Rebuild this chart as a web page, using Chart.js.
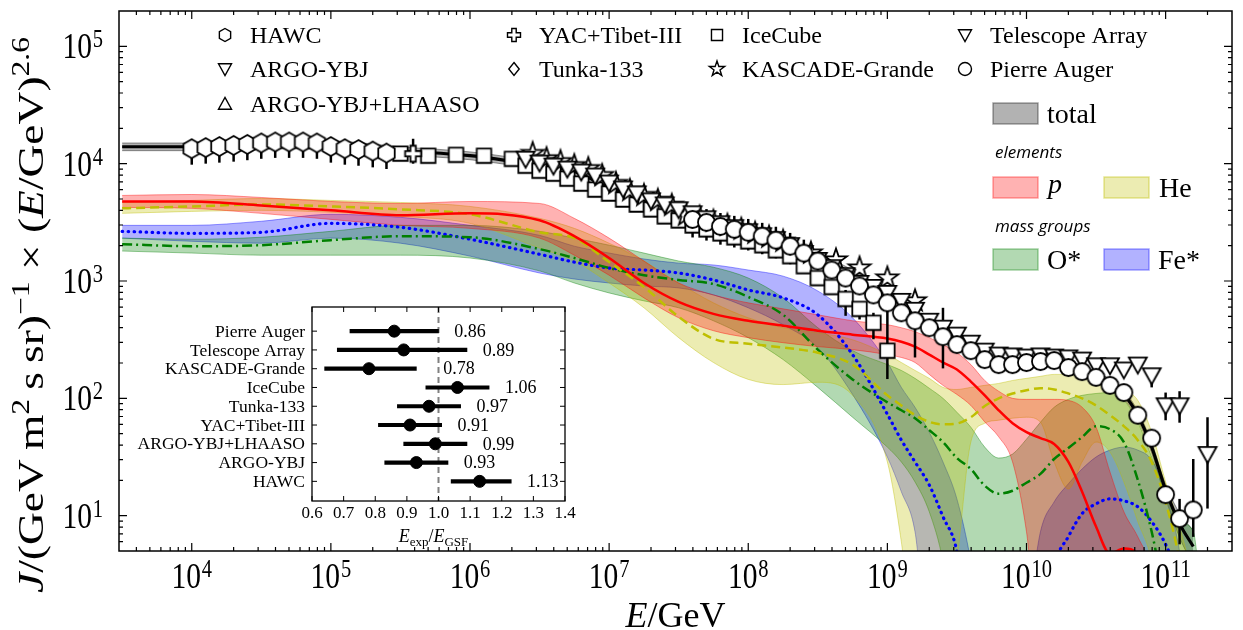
<!DOCTYPE html>
<html>
<head>
<meta charset="utf-8">
<script src="https://cdn.jsdelivr.net/npm/chart.js@4.4.0/dist/chart.umd.min.js"></script>
<style>
  html, body { margin: 0; padding: 0; background: #fff; }
  #wrap { position: relative; width: 1243px; height: 630px; }
  #main { position: absolute; left: 0; top: 0; }
  #inset { position: absolute; left: 120px; top: 295px; }
</style>
</head>
<body>
<div id="wrap">
  <canvas id="main" width="1243" height="630"></canvas>
  <canvas id="inset" width="470" height="260"></canvas>
</div>
<script>
// model grid (E in GeV)
const gridE = [3.16e3, 1e4, 3.16e4, 1e5, 3.16e5, 1e6, 3.16e6, 5.62e6, 1e7, 1.78e7, 3.16e7, 5.62e7, 1e8, 1.78e8, 3.16e8, 5.62e8,
  1e9, 1.26e9, 1.58e9, 2e9, 2.51e9, 3.16e9, 3.98e9, 5.01e9, 6.31e9, 7.94e9, 1e10, 1.26e10, 1.58e10, 2e10, 2.51e10, 3.16e10,
  3.98e10, 5.01e10, 6.31e10, 7.94e10, 1e11, 1.26e11, 1.58e11, 2e11, 3.16e11];

// total flux model
const totalMid = [13930, 13930, 14490, 14490, 12890, 11690, 9620, 8560, 6260, 4950, 4000, 3230, 2600, 2100, 1600, 1150,
  761, 626, 515, 424, 356, 304, 260, 232, 210, 206, 206, 210, 206, 194, 176, 157, 134, 108, 71.8, 38.4, 16.6, 8.56, 5.46, null, null];
const totalHi = [15000, 15000, 15600, 15600, 13900, 12600, 10400, 9250, 6760, 5350, 4320, 3490, 2810, 2270, 1730, 1240,
  822, 676, 556, 458, 384, 328, 281, 251, 227, 222, 222, 227, 222, 210, 190, 170, 145, 117, 78, 42, 18.5, 10.5, 7.5, null, null];
const totalLo = [12900, 12900, 13400, 13400, 11900, 10800, 8900, 7920, 5790, 4580, 3700, 2990, 2400, 1940, 1480, 1060,
  704, 579, 476, 392, 329, 281, 240, 215, 194, 191, 191, 194, 191, 179, 163, 145, 124, 99, 65, 34, 14, 6.5, 3.8, null, null];

// protons
const pMid = [4760, 4760, 4410, 4000, 3630, 3770, 3290, 2410, 1570, 962, 664, 525, 458, 416, 377, 349,
  323, 304, 276, 236, 202, 176, 139, 106, 79.1, 61.4, 51.5, 45.8, 40.8, 28.7, 16.0, 8.07, 4.76, 5.25, 4.67, 1.87, 0.7, 0.7, 0.7, 0.7, 0.7];
const pHi = [5360, 5460, 5150, 4760, 4580, 4760, 4580, 3420, 2320, 1480, 962, 761, 651, 579, 515, 458,
  424, 400, 370, 329, 287, 245, 194, 142, 115, 100, 98, 98, 98, 96, 84, 57, 23.6, 10.8, 6.6, 3.4, 0.7, 0.7, 0.7, 0.7, 0.7];
const pLo = [4240, 4160, 3770, 3350, 2980, 2810, 2320, 1660, 1120, 718, 486, 377, 329, 298, 276, 260,
  236, 223, 202, 160, 129, 108, 87, 63, 47, 28.7, 7.3, 0.7, 0.7, 0.7, 0.7, 0.7, 0.7, 0.7, 0.7, 0.7, 0.7, 0.7, 0.7, 0.7, 0.7];

// helium
const heMid = [4160, 4320, 4490, 4320, 4080, 3700, 2600, 2320, 1450, 890, 495, 322, 292, 271, 245, 194,
  106, 87, 72, 63, 60, 61, 69, 86, 100, 110, 117, 122, 119, 110, 100, 87, 72, 58, 44, 28.7, 13.1, 4.1, 0.7, 0.7, 0.7];
const heHi = [4670, 4860, 5050, 4860, 4670, 4320, 3420, 2810, 2100, 1480, 962, 651, 486, 400, 362, 316,
  236, 202, 173, 148, 124, 119, 124, 129, 134, 142, 148, 154, 160, 160, 157, 151, 137, 119, 96, 51.5, 19.4, 8.1, 2.8, 0.7, 0.7];
const heLo = [3770, 3920, 4000, 3850, 3560, 3100, 1905, 1480, 962, 591, 329, 202, 145, 131, 137, 106,
  28.7, 6.0, 0.7, 0.7, 0.7, 4.1, 42.4, 61.4, 65.1, 67.7, 69.0, 62.6, 28.7, 16.9, 28.7, 42.4, 34.9, 19.4, 8.9, 4.1, 0.7, 0.7, 0.7, 0.7, 0.7];

// O* mass group
const oMid = [2060, 1980, 2020, 2230, 2410, 2360, 1870, 1570, 1290, 1120, 1020, 943, 732, 515, 260, 145,
  92.5, 79.1, 67.7, 53.6, 42.4, 31.0, 25.0, 18.0, 15.4, 16.3, 19.1, 22.7, 30.4, 37.7, 46.7, 57.9, 54.6, 42.4, 20.2, 7.3, 1.9, 0.7, 0.7, 0.7, 0.7];
const oHi = [2320, 2270, 2360, 2650, 2980, 2980, 2650, 2320, 2020, 1730, 1480, 1310, 1060, 718, 400, 255,
  194, 173, 148, 122, 100, 76.1, 56.8, 38.4, 31.0, 33.5, 44.9, 62.6, 83.9, 98.1, 106, 110, 112, 96.2, 62.6, 31.6, 15.4, 8.9, 7.3, 0.7, 0.7];
const oLo = [1800, 1730, 1660, 1660, 1660, 1570, 1220, 962, 791, 677, 591, 458, 329, 214, 124, 69,
  38.4, 28.7, 19.4, 10.8, 4.1, 0.7, 0.7, 0.7, 0.7, 0.7, 0.7, 0.7, 0.7, 0.7, 0.7, 0.7, 0.7, 0.7, 0.7, 0.7, 0.7, 0.7, 0.7, 0.7, 0.7];

// Fe* mass group
const feMid = [2650, 2550, 2600, 3100, 2870, 2270, 1690, 1450, 1290, 1240, 1170, 1020, 839, 718, 515, 236,
  73.2, 44.1, 28.7, 18.3, 9.8, 4.95, 0.7, 0.7, 0.7, 0.7, 0.7, 0.7, 3.7, 6.64, 10.4, 12.6, 13.9, 13.4, 11.9, 8.9, 5.68, 2.76, 0.7, 0.7, 0.7];
const feHi = [2980, 2980, 3230, 3700, 3490, 2980, 2450, 1980, 1730, 1540, 1420, 1370, 1240, 1100, 823, 486,
  202, 124, 83.9, 51.5, 28.7, 13.9, 4.1, 0.7, 0.7, 0.7, 1.26, 7.3, 13.1, 18.7, 25.0, 31.6, 36.2, 38.4, 36.2, 29.8, 16.0, 4.95, 0.7, 0.7, 0.7];
const feLo = [2320, 2180, 2100, 2320, 2100, 1630, 1170, 1040, 962, 907, 873, 761, 591, 424, 271, 108,
  31.6, 16.0, 7.3, 0.7, 0.7, 0.7, 0.7, 0.7, 0.7, 0.7, 0.7, 0.7, 0.7, 0.7, 0.7, 0.7, 0.7, 0.7, 0.7, 0.7, 0.7, 0.7, 0.7, 0.7, 0.7];

// measurements
const hawcE = [1e4, 1.26e4, 1.58e4, 2e4, 2.51e4, 3.16e4, 3.98e4, 5.01e4, 6.31e4, 7.94e4, 1e5, 1.26e5, 1.58e5, 2e5, 2.51e5];
const hawcJ = [13400, 13700, 14000, 14300, 14600, 15000, 15300, 15300, 15300, 15000, 14000, 13400, 13200, 12800, 12300];
const hawcLo = [9800, 10000, 10200, 10400, 10700, 11000, 11200, 11200, 11200, 11000, 10200, 9800, 9600, 9300, 9000];
const hawcHi = [16100, 16400, 16800, 17200, 17500, 18000, 18300, 18300, 18300, 18000, 16800, 16100, 15800, 15400, 14800];

const yacE = [3.9e5];
const yacJ = [12150];
const yacLo = [10000];
const yacHi = [16300];

const iceE = [3.16e5, 5.01e5, 7.94e5, 1.26e6, 2e6, 2.51e6, 3.16e6, 3.98e6, 5.01e6, 6.31e6, 7.94e6, 1e7, 1.26e7, 1.58e7, 2e7, 2.51e7,
  3.16e7, 3.98e7, 5.01e7, 6.31e7, 7.94e7, 1e8, 1.26e8, 1.58e8, 2e8, 2.51e8, 3.16e8, 3.98e8, 5.01e8, 6.31e8, 7.94e8, 1e9];
const iceJ = [12200, 11700, 11900, 11700, 11000, 9620, 8720, 8230, 7460, 6770, 6020, 5570, 4950, 4490, 4080, 3560,
  3290, 2980, 2760, 2550, 2360, 2180, 2020, 1830, 1630, 1340, 1060, 890, 704, 579, 441, 255];
const iceErrE = [5.01e8, 6.31e8, 7.94e8, 1e9];
const iceErrLo = [505, 470, 319, 146];
const iceErrHi = [839, 651, 536, 651];

const kgE = [2.82e6, 3.55e6, 4.47e6, 5.62e6, 7.08e6, 8.91e6, 1.12e7, 1.41e7, 1.78e7, 2.24e7, 2.82e7, 3.55e7, 4.47e7, 5.62e7,
  7.08e7, 8.91e7, 1.12e8, 1.41e8, 1.78e8, 2.82e8, 4.27e8, 6.31e8, 1e9, 1.58e9];
const kgJ = [12200, 11000, 10400, 9620, 9070, 7910, 6770, 5900, 5350, 4860, 4410, 3630, 3490, 3230,
  2980, 2760, 2550, 2360, 2180, 1730, 1510, 1290, 1060, 677];

const taE = [2.51e6, 3.16e6, 3.98e6, 5.01e6, 6.31e6, 7.94e6, 1e7, 1.26e7, 1.58e7, 2e7, 2.51e7, 3.16e7, 3.98e7, 5.01e7, 6.31e7, 7.94e7,
  1e8, 1.26e8, 1.58e8, 2e8, 2.51e8, 3.16e8, 3.98e8, 5.01e8, 6.31e8, 7.94e8, 1e9, 1.26e9, 1.58e9, 2e9, 2.51e9, 3.16e9,
  3.98e9, 5.01e9, 6.31e9, 7.94e9, 1e10, 1.26e10, 1.58e10, 2e10, 2.51e10, 3.16e10, 3.98e10, 5.01e10, 6.31e10, 7.94e10, 1e11, 1.26e11, 2e11];
const taJ = [11000, 10200, 9620, 9070, 8560, 7910, 6900, 6140, 5570, 4860, 4490, 4080, 3770, 3420, 3100, 2870,
  2650, 2450, 2270, 2020, 1730, 1510, 1310, 1120, 962, 890, 791, 677, 568, 458, 400, 349,
  298, 255, 236, 232, 227, 232, 227, 223, 214, 191, 191, 176, 194, 157, 87.2, 87.2, 33.5];
const taErrE = [1.58e9, 2.51e9, 7.94e10, 1e11, 1.26e11, 2e11];
const taErrLo = [223, 180, 124, 65, 62, 11.5];
const taErrHi = [536, 591, 166, 112, 115, 69];

const augerE = [3.98e7, 5.01e7, 6.31e7, 7.94e7, 1e8, 1.26e8, 1.58e8, 2e8, 2.51e8, 3.16e8, 3.98e8, 5.01e8, 6.31e8, 7.94e8,
  1e9, 1.26e9, 1.58e9, 2e9, 2.51e9, 3.16e9, 3.98e9, 5.01e9, 6.31e9, 7.94e9, 1e10, 1.26e10, 1.58e10, 2e10, 2.51e10,
  3.16e10, 3.98e10, 5.01e10, 6.31e10, 7.94e10, 1e11, 1.26e11, 1.58e11];
const augerJ = [3350, 3160, 2920, 2760, 2600, 2410, 2230, 1980, 1730, 1480, 1240, 1060, 907, 761,
  651, 536, 458, 400, 335, 287, 255, 214, 194, 194, 202, 206, 210, 183, 169,
  151, 129, 112, 71.8, 45.8, 15.1, 9.43, 11.2];
const augerErrE = [3.98e7, 5.01e7, 6.31e7, 7.94e7, 1e8, 1.26e8, 1.58e8, 2e8, 2.51e8, 1.26e11, 1.58e11];
const augerErrLo = [2350, 2210, 2040, 1930, 1820, 1690, 1560, 1390, 1210, 5.7, 6.6];
const augerErrHi = [4350, 4100, 3800, 3590, 3380, 3130, 2900, 2570, 2250, 13.9, 30.4];

// axis decades
const xTickExp = [4, 5, 6, 7, 8, 9, 10, 11];
const yTickExp = [1, 2, 3, 4, 5];

// inset: energy scale ratios
const expNames = ['Pierre Auger', 'Telescope Array', 'KASCADE-Grande', 'IceCube', 'Tunka-133', 'YAC+Tibet-III', 'ARGO-YBJ+LHAASO', 'ARGO-YBJ', 'HAWC'];
const ratioMid = [0.86, 0.89, 0.78, 1.06, 0.97, 0.91, 0.99, 0.93, 1.13];
const ratioLo = [0.72, 0.68, 0.64, 0.96, 0.87, 0.81, 0.89, 0.83, 1.04];
const ratioHi = [1.00, 1.09, 0.93, 1.16, 1.07, 1.01, 1.09, 1.03, 1.23];
const ratioTicks = [0.6, 0.7, 0.8, 0.9, 1.0, 1.1, 1.2, 1.3, 1.4];
const refRatio = 1.0;

const SERIF = '"Liberation Serif", "Times New Roman", serif';

const xy = (xs, ys) => xs.map((x, i) => ({ x: x, y: ys[i] }));

// marker shapes
function markerPath(g, kind, x, y, s) {
    g.beginPath();
    if (kind === 'circle') {
        g.arc(x, y, s, 0, Math.PI * 2);
    } else if (kind === 'hex') {
        for (let k = 0; k < 6; k++) {
            const a = -Math.PI / 2 + k * Math.PI / 3;
            const px = x + s * Math.cos(a), py = y + s * Math.sin(a);
            if (k) g.lineTo(px, py); else g.moveTo(px, py);
        }
        g.closePath();
    } else if (kind === 'square') {
        g.rect(x - s * 0.85, y - s * 0.85, s * 1.7, s * 1.7);
    } else if (kind === 'tdown') {
        g.moveTo(x - s, y - s * 0.8); g.lineTo(x + s, y - s * 0.8); g.lineTo(x, y + s); g.closePath();
    } else if (kind === 'tup') {
        g.moveTo(x - s, y + s * 0.8); g.lineTo(x + s, y + s * 0.8); g.lineTo(x, y - s); g.closePath();
    } else if (kind === 'diamond') {
        g.moveTo(x, y - s); g.lineTo(x + s * 0.8, y); g.lineTo(x, y + s); g.lineTo(x - s * 0.8, y); g.closePath();
    } else if (kind === 'star') {
        for (let k = 0; k < 10; k++) {
            const r = k % 2 ? s * 0.45 : s * 1.15;
            const a = -Math.PI / 2 + k * Math.PI / 5;
            const px = x + r * Math.cos(a), py = y + r * Math.sin(a);
            if (k) g.lineTo(px, py); else g.moveTo(px, py);
        }
        g.closePath();
    } else if (kind === 'plus') {
        const a = s * 0.34;
        const p = [[-a, -s], [a, -s], [a, -a], [s, -a], [s, a], [a, a], [a, s], [-a, s], [-a, a], [-s, a], [-s, -a], [-a, -a]];
        p.forEach((q, k) => k ? g.lineTo(x + q[0], y + q[1]) : g.moveTo(x + q[0], y + q[1]));
        g.closePath();
    }
}

function drawMarker(g, kind, x, y, s, lw) {
    markerPath(g, kind, x, y, s);
    g.fillStyle = '#fff';
    g.fill();
    g.lineWidth = lw;
    g.strokeStyle = '#000';
    g.stroke();
}

function markerImage(kind, s) {
    const n = Math.ceil(s * 2.6) + 4;
    const c = document.createElement('canvas');
    c.width = n; c.height = n;
    drawMarker(c.getContext('2d'), kind, n / 2, n / 2, s, 1.8);
    return c;
}

function bandSets(hi, lo, rgb) {
    return [
        { data: xy(gridE, hi), borderColor: 'rgba(' + rgb + ',0.4)', borderWidth: 1, backgroundColor: 'rgba(' + rgb + ',0.3)',
          fill: '+1', pointRadius: 0, cubicInterpolationMode: 'monotone', order: 10 },
        { data: xy(gridE, lo), borderColor: 'rgba(' + rgb + ',0.4)', borderWidth: 1, fill: false,
          pointRadius: 0, cubicInterpolationMode: 'monotone', order: 10 }
    ];
}

function modelLine(mid, color, dash, width) {
    return { data: xy(gridE, mid), borderColor: color, borderWidth: width, borderDash: dash, fill: false,
             pointRadius: 0, cubicInterpolationMode: 'monotone', order: 5 };
}

function pointSet(es, js, kind, s, order) {
    return { data: xy(es, js), showLine: false, pointStyle: markerImage(kind, s), pointRadius: s, order: order };
}

// rich text with italics, super- and subscripts
function richFont(seg, F) {
    return (seg.it ? 'italic ' : '') + Math.round(seg.sup || seg.sub ? F * 0.7 : F) + 'px ' + SERIF;
}
function measureRich(ctx, segs, F) {
    let w = 0;
    segs.forEach(s => { ctx.font = richFont(s, F); w += ctx.measureText(s.t).width; });
    return w;
}
function drawRich(ctx, segs, x, y, F, align) {
    const w = measureRich(ctx, segs, F);
    let cx = align === 'center' ? x - w / 2 : align === 'right' ? x - w : x;
    ctx.textAlign = 'left';
    ctx.textBaseline = 'alphabetic';
    segs.forEach(s => {
        ctx.font = richFont(s, F);
        const dy = s.sup ? -F * 0.38 : s.sub ? F * 0.22 : 0;
        ctx.fillText(s.t, cx, y + dy);
        cx += ctx.measureText(s.t).width;
    });
}

// "10^n" tick label, glyphs a bit condensed like the original
function drawPow(ctx, n, x, y, align) {
    ctx.save();
    ctx.translate(x, y);
    ctx.scale(0.82, 1);
    ctx.fillStyle = '#000';
    ctx.textAlign = 'left';
    ctx.textBaseline = 'alphabetic';
    ctx.font = '36px ' + SERIF;
    const wb = ctx.measureText('10').width;
    ctx.font = '25px ' + SERIF;
    const we = ctx.measureText(String(n)).width;
    const w = wb + we + 1;
    const x0 = align === 'right' ? -w : -w / 2;
    ctx.font = '36px ' + SERIF;
    ctx.fillText('10', x0, 12);
    ctx.font = '25px ' + SERIF;
    ctx.fillText(String(n), x0 + wb + 1, 1);
    ctx.restore();
}

const errorSets = [
    [hawcE, hawcLo, hawcHi], [yacE, yacLo, yacHi], [iceErrE, iceErrLo, iceErrHi],
    [taErrE, taErrLo, taErrHi], [augerErrE, augerErrLo, augerErrHi]
];

const errorBars = {
    id: 'errorBars',
    afterDatasetDraw(chart, args) {
        if (chart.data.datasets[args.index].label !== 'total') return;
        const { ctx, chartArea: a } = chart;
        const x = chart.scales.x, y = chart.scales.y;
        ctx.save();
        ctx.beginPath();
        ctx.rect(a.left, a.top, a.right - a.left, a.bottom - a.top);
        ctx.clip();
        ctx.strokeStyle = '#000';
        ctx.lineWidth = 2.5;
        errorSets.forEach(([es, lo, hi]) => {
            es.forEach((e, i) => {
                const px = x.getPixelForValue(e);
                ctx.beginPath();
                ctx.moveTo(px, y.getPixelForValue(lo[i]));
                ctx.lineTo(px, y.getPixelForValue(hi[i]));
                ctx.stroke();
            });
        });
        ctx.restore();
    }
};

const mainFrame = {
    id: 'mainFrame',
    afterDraw(chart) {
        const { ctx, chartArea: a } = chart;
        const x = chart.scales.x, y = chart.scales.y;
        ctx.save();
        ctx.strokeStyle = '#000';
        ctx.fillStyle = '#000';
        ctx.lineWidth = 1.5;
        ctx.strokeRect(a.left, a.top, a.right - a.left, a.bottom - a.top);

        // ticks, pointing inward on all four sides
        ctx.lineWidth = 1.2;
        for (let k = 3; k <= 11; k++) {
            for (let m = 1; m <= 9; m++) {
                const v = m * Math.pow(10, k);
                if (v <= x.min || v >= x.max) continue;
                const px = x.getPixelForValue(v), len = m === 1 ? 8 : 4;
                ctx.beginPath();
                ctx.moveTo(px, a.bottom); ctx.lineTo(px, a.bottom - len);
                ctx.moveTo(px, a.top); ctx.lineTo(px, a.top + len);
                ctx.stroke();
            }
        }
        for (let k = 0; k <= 5; k++) {
            for (let m = 1; m <= 9; m++) {
                const v = m * Math.pow(10, k);
                if (v <= y.min || v >= y.max) continue;
                const py = y.getPixelForValue(v), len = m === 1 ? 8 : 4;
                ctx.beginPath();
                ctx.moveTo(a.left, py); ctx.lineTo(a.left + len, py);
                ctx.moveTo(a.right, py); ctx.lineTo(a.right - len, py);
                ctx.stroke();
            }
        }

        // tick labels
        xTickExp.forEach(n => drawPow(ctx, n, x.getPixelForValue(Math.pow(10, n)), 576, 'center'));
        yTickExp.forEach(n => drawPow(ctx, n, 103, y.getPixelForValue(Math.pow(10, n)), 'right'));

        // axis titles
        ctx.fillStyle = '#000';
        drawRich(ctx, [{ t: 'E', it: true }, { t: '/GeV' }], (a.left + a.right) / 2, 627, 36, 'center');
        const ySegs = [{ t: 'J', it: true }, { t: '/(GeV\u2009m' }, { t: '2', sup: true }, { t: '\u2009s\u2009sr)' }, { t: '\u22121', sup: true },
            { t: ' \u00d7 (' }, { t: 'E', it: true }, { t: '/GeV)' }, { t: '2.6', sup: true }];
        ctx.save();
        ctx.translate(31, 315);
        ctx.rotate(-Math.PI / 2);
        const w = measureRich(ctx, ySegs, 36);
        ctx.scale(556 / w, 1);
        drawRich(ctx, ySegs, 0, 12, 36, 'center');
        ctx.restore();

        // legend: experiments
        const rows = [
            ['hex', 'HAWC', 225, 35], ['tdown', 'ARGO-YBJ', 225, 69], ['tup', 'ARGO-YBJ+LHAASO', 225, 104],
            ['plus', 'YAC+Tibet-III', 514, 35], ['diamond', 'Tunka-133', 514, 69],
            ['square', 'IceCube', 717, 35], ['star', 'KASCADE-Grande', 717, 69],
            ['tdown', 'Telescope Array', 965, 35], ['circle', 'Pierre Auger', 965, 69]
        ];
        rows.forEach(([kind, name, mx, my]) => {
            drawMarker(ctx, kind, mx, my, kind === 'star' ? 7 : 6.5, 1.4);
            ctx.fillStyle = '#000';
            ctx.font = '24px ' + SERIF;
            ctx.textAlign = 'left';
            ctx.textBaseline = 'alphabetic';
            ctx.fillText(name, mx + 25, my + 8);
        });

        // legend: model components
        const patch = (px, py, rgb, edge) => {
            ctx.fillStyle = 'rgba(' + rgb + ',0.3)';
            ctx.fillRect(px, py, 45, 21);
            ctx.strokeStyle = edge;
            ctx.lineWidth = 1.5;
            ctx.strokeRect(px, py, 45, 21);
        };
        patch(993, 103, '0,0,0', 'rgba(0,0,0,0.35)');
        patch(993, 177, '255,0,0', 'rgba(255,0,0,0.35)');
        patch(1104, 177, '191,191,0', 'rgba(191,191,0,0.4)');
        patch(993, 249, '0,128,0', 'rgba(0,128,0,0.35)');
        patch(1104, 249, '0,0,255', 'rgba(0,0,255,0.35)');
        ctx.fillStyle = '#000';
        ctx.textAlign = 'left';
        ctx.textBaseline = 'alphabetic';
        ctx.font = '28px ' + SERIF;
        ctx.fillText('total', 1047, 123);
        ctx.fillText('He', 1159, 197);
        ctx.fillText('O*', 1047, 269);
        ctx.fillText('Fe*', 1158, 269);
        ctx.font = 'italic 28px ' + SERIF;
        ctx.fillText('p', 1048, 193);
        ctx.font = 'italic 17px "Open Sans", "DejaVu Sans", sans-serif';
        ctx.fillText('elements', 995, 158);
        ctx.fillText('mass groups', 995, 232);
        ctx.restore();
    }
};

const feLine = modelLine(feMid, '#0000ff', [0.5, 5.5], 3.2);
feLine.borderCapStyle = 'round';

new Chart(document.getElementById('main'), {
    type: 'line',
    data: {
        datasets: [
            ...bandSets(pHi, pLo, '255,0,0'),
            ...bandSets(heHi, heLo, '191,191,0'),
            ...bandSets(oHi, oLo, '0,128,0'),
            ...bandSets(feHi, feLo, '0,0,255'),
            ...bandSets(totalHi, totalLo, '0,0,0'),
            modelLine(pMid, '#ff0000', [], 2.5),
            modelLine(heMid, '#bfbf00', [9, 5], 2.5),
            modelLine(oMid, '#008000', [10, 4, 2, 4], 2.5),
            feLine,
            Object.assign(modelLine(totalMid, '#000000', [], 3.2), { label: 'total', order: 4 }),
            pointSet(hawcE, hawcJ, 'hex', 9.5, 1),
            pointSet(yacE, yacJ, 'plus', 8, 1),
            pointSet(iceE, iceJ, 'square', 8.5, 3),
            pointSet(kgE, kgJ, 'star', 10, 2),
            pointSet(taE, taJ, 'tdown', 9, 1),
            pointSet(augerE, augerJ, 'circle', 8.5, 0)
        ]
    },
    options: {
        responsive: false,
        animation: false,
        layout: { padding: { left: 119, right: 5, top: 6, bottom: 79 } },
        plugins: { legend: { display: false }, tooltip: { enabled: false } },
        scales: {
            x: { type: 'logarithmic', min: 3e3, max: 3e11, display: false },
            y: { type: 'logarithmic', min: 5, max: 2e5, display: false }
        }
    },
    plugins: [errorBars, mainFrame]
});

// inset axes
const insetFrame = {
    id: 'insetFrame',
    beforeDraw(chart) {
        const { ctx, chartArea: a } = chart;
        ctx.save();
        ctx.fillStyle = '#fff';
        ctx.fillRect(a.left, a.top, a.right - a.left, a.bottom - a.top);
        ctx.restore();
    },
    beforeDatasetsDraw(chart) {
        const { ctx, chartArea: a } = chart;
        const px = chart.scales.x.getPixelForValue(refRatio);
        ctx.save();
        ctx.strokeStyle = '#808080';
        ctx.lineWidth = 2;
        ctx.setLineDash([6, 4]);
        ctx.beginPath();
        ctx.moveTo(px, a.top); ctx.lineTo(px, a.bottom);
        ctx.stroke();
        ctx.restore();
    },
    afterDraw(chart) {
        const { ctx, chartArea: a } = chart;
        const x = chart.scales.x, y = chart.scales.y;
        const n = expNames.length;
        ctx.save();
        ctx.strokeStyle = '#000';
        ctx.fillStyle = '#000';
        ctx.lineWidth = 1.3;
        ctx.strokeRect(a.left, a.top, a.right - a.left, a.bottom - a.top);
        ctx.lineWidth = 1;
        ratioTicks.forEach(v => {
            const px = x.getPixelForValue(v);
            ctx.beginPath();
            ctx.moveTo(px, a.bottom); ctx.lineTo(px, a.bottom - 5);
            ctx.moveTo(px, a.top); ctx.lineTo(px, a.top + 5);
            ctx.stroke();
        });
        expNames.forEach((name, i) => {
            const py = y.getPixelForValue(n - 1 - i);
            ctx.beginPath();
            ctx.moveTo(a.left, py); ctx.lineTo(a.left + 5, py);
            ctx.moveTo(a.right, py); ctx.lineTo(a.right - 5, py);
            ctx.stroke();
            ctx.font = '17.5px ' + SERIF;
            ctx.textAlign = 'right';
            ctx.textBaseline = 'middle';
            ctx.fillText(name, a.left - 7, py + 1);
            ctx.font = '18px ' + SERIF;
            ctx.textAlign = 'left';
            ctx.fillText(ratioMid[i].toFixed(2), x.getPixelForValue(Math.max(ratioHi[i] + 0.05, 1.015)), py + 1);
        });
        ctx.font = '17px ' + SERIF;
        ctx.textAlign = 'center';
        ctx.textBaseline = 'middle';
        ratioTicks.forEach(v => ctx.fillText(v.toFixed(1), x.getPixelForValue(v), a.bottom + 13));
        drawRich(ctx, [{ t: 'E', it: true }, { t: 'exp', sub: true }, { t: '/' }, { t: 'E', it: true }, { t: 'GSF', sub: true }],
            (a.left + a.right) / 2 - 5, a.bottom + 41, 18, 'center');
        ctx.restore();
    }
};

new Chart(document.getElementById('inset'), {
    type: 'bar',
    data: {
        datasets: [
            { type: 'line', data: ratioMid.map((v, i) => ({ x: v, y: expNames.length - 1 - i })), showLine: false,
              pointRadius: 6, pointBackgroundColor: '#000', pointBorderColor: '#000', order: 0 },
            { type: 'bar', data: ratioLo.map((v, i) => ({ x: [v, ratioHi[i]], y: expNames.length - 1 - i })),
              backgroundColor: '#000', barThickness: 3.5, order: 1 }
        ]
    },
    options: {
        indexAxis: 'y',
        responsive: false,
        animation: false,
        layout: { padding: { left: 192, right: 25, top: 12, bottom: 54 } },
        plugins: { legend: { display: false }, tooltip: { enabled: false } },
        scales: {
            x: { type: 'linear', min: 0.6, max: 1.4, display: false },
            y: { type: 'linear', min: -0.53, max: 8.77, display: false }
        }
    },
    plugins: [insetFrame]
});
</script>
</body>
</html>
